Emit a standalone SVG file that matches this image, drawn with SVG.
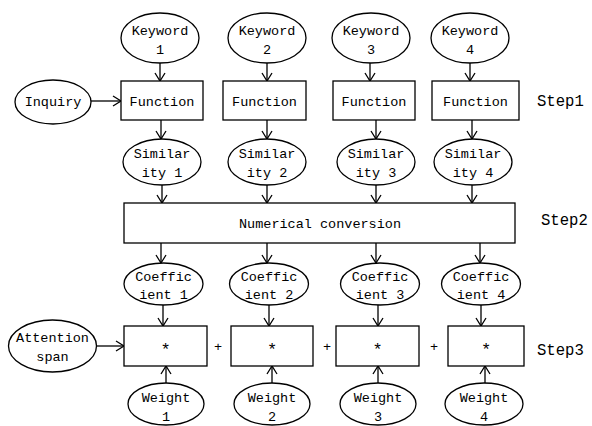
<svg xmlns="http://www.w3.org/2000/svg" width="592" height="426" viewBox="0 0 592 426">
<style>
.s{fill:#fff;stroke:#000;stroke-width:1.3}
.t{font-family:"Liberation Mono","DejaVu Sans Mono",monospace;font-size:13.5px;fill:#000;text-anchor:middle}
.ast{font-family:"Liberation Mono","DejaVu Sans Mono",monospace;font-size:17px;fill:#000;text-anchor:middle}
.st{font-family:"Liberation Mono","DejaVu Sans Mono",monospace;font-size:15.6px;fill:#000}
.c{stroke:#000;stroke-width:1.3;fill:none;marker-end:url(#a)}
</style>
<defs>
<marker id="a" markerWidth="12" markerHeight="12" refX="10" refY="6" orient="auto" markerUnits="userSpaceOnUse">
<polyline points="2,1 10,6 2,11" fill="none" stroke="#000" stroke-width="1.3"/>
</marker>
</defs>
<rect width="592" height="426" fill="#fff"/>
<g id="connectors">
<line class="c" x1="160" y1="63" x2="160" y2="81"/>
<line class="c" x1="267" y1="63" x2="267" y2="81"/>
<line class="c" x1="370" y1="63" x2="370" y2="81"/>
<line class="c" x1="470" y1="63" x2="470" y2="81"/>
<line class="c" x1="91" y1="101" x2="121" y2="101"/>
<line class="c" x1="161" y1="120" x2="161" y2="139"/>
<line class="c" x1="267" y1="120" x2="267" y2="139"/>
<line class="c" x1="376" y1="120" x2="376" y2="139"/>
<line class="c" x1="472" y1="120" x2="472" y2="139"/>
<line class="c" x1="162" y1="185" x2="162" y2="203"/>
<line class="c" x1="267" y1="185" x2="267" y2="203"/>
<line class="c" x1="376" y1="185" x2="376" y2="203"/>
<line class="c" x1="472" y1="185" x2="472" y2="203"/>
<line class="c" x1="161" y1="243" x2="161" y2="263"/>
<line class="c" x1="267" y1="243" x2="267" y2="263"/>
<line class="c" x1="376" y1="243" x2="376" y2="263"/>
<line class="c" x1="480" y1="243" x2="480" y2="263"/>
<line class="c" x1="163" y1="305" x2="163" y2="326"/>
<line class="c" x1="269" y1="305" x2="269" y2="326"/>
<line class="c" x1="378" y1="305" x2="378" y2="326"/>
<line class="c" x1="481" y1="305" x2="481" y2="326"/>
<line class="c" x1="97" y1="346" x2="124" y2="346"/>
<line class="c" x1="166" y1="383" x2="166" y2="366"/>
<line class="c" x1="272" y1="383" x2="272" y2="366"/>
<line class="c" x1="378" y1="383" x2="378" y2="366"/>
<line class="c" x1="485" y1="383" x2="485" y2="366"/>
</g>
<g id="keyword1"><ellipse class="s" cx="160" cy="38" rx="39" ry="25"/><text class="t" x="160" y="35">Keyword</text><text class="t" x="160" y="54">1</text></g>
<g id="keyword2"><ellipse class="s" cx="267" cy="38" rx="39" ry="25"/><text class="t" x="267" y="35">Keyword</text><text class="t" x="267" y="54">2</text></g>
<g id="keyword3"><ellipse class="s" cx="371" cy="38" rx="39" ry="25"/><text class="t" x="371" y="35">Keyword</text><text class="t" x="371" y="54">3</text></g>
<g id="keyword4"><ellipse class="s" cx="470" cy="38" rx="39" ry="25"/><text class="t" x="470" y="35">Keyword</text><text class="t" x="470" y="54">4</text></g>
<g id="inquiry"><ellipse class="s" cx="53" cy="102" rx="38" ry="22"/><text class="t" x="53" y="106">Inquiry</text></g>
<g id="function1"><rect class="s" x="121" y="81" width="82" height="39"/><text class="t" x="162" y="106">Function</text></g>
<g id="function2"><rect class="s" x="223" y="81" width="83" height="39"/><text class="t" x="264.5" y="106">Function</text></g>
<g id="function3"><rect class="s" x="333" y="81" width="82" height="39"/><text class="t" x="374" y="106">Function</text></g>
<g id="function4"><rect class="s" x="432" y="81" width="87" height="39"/><text class="t" x="475.5" y="106">Function</text></g>
<g id="step1"><text class="st" x="537" y="106">Step1</text></g>
<g id="similarity1"><ellipse class="s" cx="162" cy="162" rx="39" ry="23"/><text class="t" x="162" y="158">Similar</text><text class="t" x="162" y="177">ity 1</text></g>
<g id="similarity2"><ellipse class="s" cx="267" cy="162" rx="39" ry="23"/><text class="t" x="267" y="158">Similar</text><text class="t" x="267" y="177">ity 2</text></g>
<g id="similarity3"><ellipse class="s" cx="376" cy="162" rx="39" ry="23"/><text class="t" x="376" y="158">Similar</text><text class="t" x="376" y="177">ity 3</text></g>
<g id="similarity4"><ellipse class="s" cx="473" cy="162" rx="39" ry="23"/><text class="t" x="473" y="158">Similar</text><text class="t" x="473" y="177">ity 4</text></g>
<g id="numerical"><rect class="s" x="124" y="203" width="391" height="40"/><text class="t" x="320" y="228">Numerical conversion</text></g>
<g id="step2"><text class="st" x="541" y="225">Step2</text></g>
<g id="coefficient1"><ellipse class="s" cx="163.5" cy="284" rx="39.5" ry="21"/><text class="t" x="163.5" y="281">Coeffic</text><text class="t" x="163.5" y="299">ient 1</text></g>
<g id="coefficient2"><ellipse class="s" cx="269" cy="284" rx="39.5" ry="21"/><text class="t" x="269" y="281">Coeffic</text><text class="t" x="269" y="299">ient 2</text></g>
<g id="coefficient3"><ellipse class="s" cx="380" cy="284" rx="39.5" ry="21"/><text class="t" x="380" y="281">Coeffic</text><text class="t" x="380" y="299">ient 3</text></g>
<g id="coefficient4"><ellipse class="s" cx="481" cy="284" rx="39.5" ry="21"/><text class="t" x="481" y="281">Coeffic</text><text class="t" x="481" y="299">ient 4</text></g>
<g id="attention"><ellipse class="s" cx="52.5" cy="346" rx="44" ry="26"/><text class="t" x="52.5" y="342">Attention</text><text class="t" x="52.5" y="361">span</text></g>
<g id="mul1"><rect class="s" x="124" y="326" width="83" height="40"/><text class="ast" x="165.5" y="355">*</text></g>
<g id="mul2"><rect class="s" x="231" y="326" width="82" height="40"/><text class="ast" x="272" y="355">*</text></g>
<g id="mul3"><rect class="s" x="336" y="326" width="83" height="40"/><text class="ast" x="377.5" y="355">*</text></g>
<g id="mul4"><rect class="s" x="448" y="326" width="76" height="40"/><text class="ast" x="486" y="355">*</text></g>
<g id="plus"><text class="t" x="218" y="351">+</text><text class="t" x="327" y="351">+</text><text class="t" x="434" y="351">+</text></g>
<g id="step3"><text class="st" x="537" y="355">Step3</text></g>
<g id="weight1"><ellipse class="s" cx="166" cy="404" rx="38" ry="21"/><text class="t" x="166" y="402">Weight</text><text class="t" x="166" y="421">1</text></g>
<g id="weight2"><ellipse class="s" cx="272" cy="404" rx="38" ry="21"/><text class="t" x="272" y="402">Weight</text><text class="t" x="272" y="421">2</text></g>
<g id="weight3"><ellipse class="s" cx="378" cy="404" rx="38" ry="21"/><text class="t" x="378" y="402">Weight</text><text class="t" x="378" y="421">3</text></g>
<g id="weight4"><ellipse class="s" cx="484" cy="404" rx="39" ry="21"/><text class="t" x="484" y="402">Weight</text><text class="t" x="484" y="421">4</text></g>
</svg>
